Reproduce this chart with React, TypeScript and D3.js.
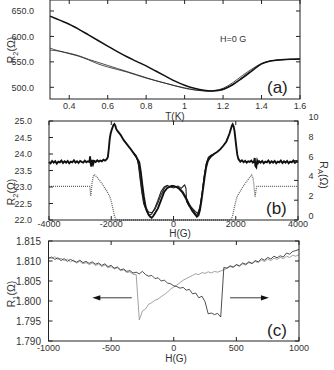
import React from "react";
import * as d3 from "d3";

const FONT = "'Liberation Sans', Arial, Helvetica, sans-serif";

// ---- panel (a): R2 vs T at H=0
const tempK = [0.3, 0.35, 0.4, 0.45, 0.5, 0.55, 0.6, 0.65, 0.7, 0.75, 0.8, 0.85, 0.9, 0.95, 1.0, 1.05, 1.1, 1.15, 1.2, 1.25, 1.3, 1.35, 1.4, 1.45, 1.5, 1.55, 1.6];
const r2Upper = [640, 632, 624, 614, 603, 592, 581, 570, 560, 551, 542, 532, 522, 512, 504, 498, 494, 493, 496, 505, 518, 532, 546, 552, 554, 555, 555.5];
const r2LowA = [577, 571, 567, 562, 555, 549, 543, 537, 531, 525, 519, 513, 508, 503, 499, 495, 493, 492.5, 495, 506, 520, 534, 546, 552, 554, 555, 555.5];
const r2LowB = [573, 571, 566, 561, 554, 546, 540, 535, 530, 524, 518, 513, 508, 503, 498, 495, 493, 493, 498, 509, 523, 536, 547, 552, 554, 555, 555.5];
const tTicks = [0.4, 0.6, 0.8, 1, 1.2, 1.4, 1.6];
const r2aTicks = [500, 550, 600, 650];

// ---- panel (b): R2 and RA vs H
const bMain: [number, number][] = [
  [-4000, 23.76], [-3950, 23.72], [-3900, 23.79], [-3850, 23.74], [-3800, 23.78], [-3750, 23.71], [-3700, 23.77], [-3650, 23.75],
  [-3600, 23.8], [-3550, 23.73], [-3500, 23.78], [-3450, 23.74], [-3400, 23.79], [-3350, 23.72], [-3300, 23.77], [-3250, 23.75],
  [-3200, 23.81], [-3150, 23.74], [-3100, 23.78], [-3050, 23.73], [-3000, 23.79], [-2950, 23.76], [-2900, 23.74], [-2850, 23.8],
  [-2800, 23.75], [-2750, 23.78], [-2700, 23.76], [-2680, 23.93], [-2660, 23.7], [-2640, 23.62], [-2610, 23.82], [-2580, 23.7],
  [-2550, 23.79], [-2500, 23.76], [-2450, 23.81], [-2400, 23.77], [-2350, 23.8], [-2300, 23.78], [-2250, 23.83], [-2200, 23.8],
  [-2150, 23.84], [-2110, 23.9], [-2080, 24.15], [-2050, 24.45], [-2020, 24.62], [-1990, 24.72], [-1960, 24.8], [-1930, 24.88],
  [-1900, 24.91], [-1870, 24.86], [-1840, 24.76], [-1800, 24.7], [-1700, 24.58], [-1600, 24.42], [-1500, 24.3], [-1400, 24.18],
  [-1300, 24.05], [-1200, 23.92], [-1100, 23.75], [-1050, 23.45], [-1000, 23.05], [-950, 22.7], [-900, 22.42], [-850, 22.26],
  [-800, 22.16], [-750, 22.1], [-700, 22.07], [-650, 22.12], [-600, 22.2], [-500, 22.35], [-400, 22.6], [-300, 22.85],
  [-200, 22.97], [-100, 23.02], [0, 23.03], [100, 23.0], [200, 22.93], [300, 22.82], [400, 22.65], [500, 22.45],
  [600, 22.28], [700, 22.16], [750, 22.1], [800, 22.14], [850, 22.3], [900, 22.6], [950, 22.95], [1000, 23.3],
  [1050, 23.6], [1100, 23.78], [1150, 23.86], [1200, 23.92], [1300, 24.0], [1400, 24.06], [1500, 24.14], [1600, 24.25],
  [1700, 24.38], [1800, 24.62], [1850, 24.78], [1880, 24.87], [1900, 24.9], [1930, 24.84], [1960, 24.7], [1990, 24.45],
  [2020, 24.2], [2050, 23.98], [2080, 23.86], [2120, 23.8], [2150, 23.77], [2200, 23.81], [2250, 23.75], [2300, 23.79],
  [2350, 23.74], [2400, 23.78], [2450, 23.76], [2500, 23.8], [2550, 23.74], [2590, 23.78], [2610, 23.88], [2630, 23.64],
  [2660, 23.6], [2690, 23.8], [2720, 23.73], [2750, 23.78], [2800, 23.74], [2850, 23.79], [2900, 23.72], [2950, 23.77],
  [3000, 23.75], [3050, 23.8], [3100, 23.73], [3150, 23.78], [3200, 23.74], [3250, 23.79], [3300, 23.72], [3350, 23.77],
  [3400, 23.75], [3450, 23.8], [3500, 23.73], [3550, 23.78], [3600, 23.74], [3650, 23.79], [3700, 23.72], [3750, 23.77],
  [3800, 23.75], [3850, 23.8], [3900, 23.73], [3950, 23.77], [4000, 23.75],
];
const bSweep2: [number, number][] = [
  [-1300, 24.05], [-1200, 23.9], [-1150, 23.8], [-1100, 23.55], [-1050, 23.15], [-1000, 22.8], [-950, 22.55], [-900, 22.38],
  [-800, 22.24], [-700, 22.22], [-600, 22.32], [-500, 22.52], [-400, 22.76], [-300, 22.95], [-250, 23.02], [-150, 22.98],
  [-50, 23.05], [50, 23.0], [150, 23.03], [250, 22.96], [320, 23.03], [360, 23.06], [400, 22.96], [420, 22.56],
  [500, 22.42], [600, 22.36], [700, 22.26], [780, 22.2], [850, 22.4], [920, 22.8], [980, 23.3], [1050, 23.7],
  [1120, 23.9], [1200, 23.96], [1300, 24.0],
];
const bSweep3: [number, number][] = [
  [-1300, 24.05], [-1200, 23.95], [-1130, 23.7], [-1080, 23.3], [-1020, 22.85], [-960, 22.5], [-880, 22.3], [-780, 22.15],
  [-700, 22.18], [-600, 22.36], [-500, 22.6], [-400, 22.86], [-300, 23.0], [-200, 23.05], [-100, 23.0], [0, 22.97],
  [100, 23.02], [200, 22.95], [300, 22.86], [400, 22.7], [500, 22.5], [600, 22.35], [700, 22.2], [760, 22.16],
  [850, 22.36], [930, 22.9], [1000, 23.4], [1060, 23.72], [1130, 23.9], [1300, 24.0],
];
const bRA: [number, number][] = [
  [-4000, 3.4], [-3000, 3.4], [-2690, 3.4], [-2672, 2.9], [-2662, 2.45], [-2650, 2.6], [-2620, 3.7], [-2580, 4.4],
  [-2545, 4.6], [-2450, 4.3], [-2350, 3.9], [-2250, 3.45], [-2150, 2.95], [-2050, 2.4], [-2000, 1.9], [-1950, 1.2],
  [-1900, 0.45], [-1860, 0.1], [-1820, 0], [1820, 0], [1860, 0.1], [1900, 0.45], [1950, 1.2], [2000, 1.9],
  [2050, 2.4], [2150, 2.95], [2250, 3.45], [2350, 3.9], [2450, 4.3], [2510, 4.55], [2560, 4.2], [2600, 3.0],
  [2620, 2.35], [2650, 3.0], [2680, 3.4], [3000, 3.4], [4000, 3.4],
];
const hbTicks = [-4000, -2000, 0, 2000, 4000];
const r2bTicks = [22, 22.5, 23, 23.5, 24, 24.5, 25];
const raTicks = [0, 2, 4, 6, 8, 10];

// ---- panel (c): R1 vs H, two sweep directions (H step 25 G from -1000)
const r1Up = [
  1.8106, 1.811, 1.8104, 1.8108, 1.8101, 1.8106, 1.8099, 1.8104, 1.81, 1.8097, 1.8102, 1.8096, 1.8099, 1.8094, 1.8098, 1.8092,
  1.8095, 1.8089, 1.8093, 1.8086, 1.8089, 1.8082, 1.8085, 1.8078, 1.808, 1.8074, 1.8076, 1.807, 1.8072, 1.8068, 1.8074, 1.8066,
  1.8062, 1.8064, 1.8056, 1.8058, 1.805, 1.8052, 1.8045, 1.8043, 1.8038, 1.8036, 1.8032, 1.8034, 1.8027, 1.8029, 1.8018, 1.802,
  1.8008, 1.8012, 1.7998, 1.7968, 1.797, 1.7966, 1.7969, 1.796, 1.8084, 1.8082, 1.8088, 1.8085, 1.8091, 1.8088, 1.8095, 1.8092,
  1.8098, 1.8094, 1.8101, 1.8098, 1.8106, 1.8102, 1.8109, 1.8105, 1.8112, 1.8108, 1.8113, 1.811, 1.812, 1.8117, 1.8124, 1.8126,
  1.8129,
];
const r1Down = [
  1.811, 1.8106, 1.8111, 1.8104, 1.8107, 1.8101, 1.8105, 1.8098, 1.8102, 1.8095, 1.8099, 1.8093, 1.8096, 1.8091, 1.8095, 1.8089,
  1.8092, 1.8086, 1.809, 1.8083, 1.8086, 1.808, 1.8083, 1.8076, 1.8078, 1.8071, 1.8073, 1.8067, 1.8066, 1.7953, 1.7975, 1.798,
  1.7992, 1.7996, 1.8002, 1.8005, 1.8011, 1.8016, 1.8022, 1.803, 1.8035, 1.804, 1.8046, 1.8052, 1.8056, 1.806, 1.8064, 1.8068,
  1.8066, 1.8071, 1.8069, 1.8073, 1.807, 1.8074, 1.8072, 1.8075, 1.8078, 1.8082, 1.8086, 1.8084, 1.809, 1.8087, 1.8093, 1.809,
  1.8096, 1.8093, 1.8099, 1.8096, 1.8102, 1.8099, 1.8105, 1.8101, 1.8107, 1.8104, 1.8109, 1.8106, 1.8112, 1.8109, 1.8114, 1.8112,
  1.8116,
];
const hcField = r1Up.map((_, i) => -1000 + 25 * i);
const hcTicks = [-1000, -500, 0, 500, 1000];
const r1Ticks = [1.79, 1.795, 1.8, 1.805, 1.81, 1.815];
// sweep arrows: [from H, to H, at R1]
const arrowLeft = [-335, -650, 1.8008];
const arrowRight = [450, 760, 1.8008];

type Lin = d3.ScaleLinear<number, number>;

function Frame(p: {
  x: Lin; y: Lin; xTicks: number[]; yTicks: number[];
  xFmt: (v: number) => string; yFmt: (v: number) => string;
  yLabelRight: number; xLabelBase: number; yFontSize?: number;
  y2?: Lin; y2Ticks?: number[]; y2LabelLeft?: number;
}) {
  const [x0, x1] = p.x.range();
  const [yb, yt] = p.y.range();
  const tl = 4;
  const rightY = p.y2 || p.y;
  const rightTicks = p.y2Ticks || p.yTicks;
  const yfs = p.yFontSize || 9;
  return (
    <g fontFamily={FONT} fontSize={9} fill="#333">
      <rect x={x0} y={yt} width={x1 - x0} height={yb - yt} fill="none" stroke="#222" strokeWidth={1} />
      <g stroke="#222" strokeWidth={1}>
        {p.xTicks.map((t) => (
          <g key={"x" + t}>
            <line x1={p.x(t)} x2={p.x(t)} y1={yb} y2={yb - tl} />
            <line x1={p.x(t)} x2={p.x(t)} y1={yt} y2={yt + tl} />
          </g>
        ))}
        {p.yTicks.map((t) => (
          <line key={"y" + t} x1={x0} x2={x0 + tl} y1={p.y(t)} y2={p.y(t)} />
        ))}
        {rightTicks.map((t) => (
          <line key={"r" + t} x1={x1} x2={x1 - tl} y1={rightY(t)} y2={rightY(t)} />
        ))}
      </g>
      {p.xTicks.map((t) => (
        <text key={"xl" + t} x={p.x(t)} y={p.xLabelBase} textAnchor="middle">{p.xFmt(t)}</text>
      ))}
      {p.yTicks.map((t) => (
        <text key={"yl" + t} x={p.yLabelRight} y={p.y(t) + yfs * 0.36} textAnchor="end" fontSize={yfs}>{p.yFmt(t)}</text>
      ))}
      {p.y2 && p.y2Ticks &&
        p.y2Ticks.map((t) => (
          <text key={"y2l" + t} x={p.y2LabelLeft} y={p.y2!(t) - 1} textAnchor="start">{String(t)}</text>
        ))}
    </g>
  );
}

function RotLabel({ x, y, sub, angle = -90 }: { x: number; y: number; sub: string; angle?: number }) {
  return (
    <text transform={`translate(${x},${y}) rotate(${angle})`} textAnchor="middle" fontFamily={FONT} fontSize={10.5} fill="#333">
      R<tspan fontSize={7.5} dy={2.5}>{sub}</tspan><tspan dy={-2.5}>(Ω)</tspan>
    </text>
  );
}

export default function App() {
  // (a)
  const aX = d3.scaleLinear().domain([0.3, 1.6]).range([50, 300]);
  const aY = d3.scaleLinear().domain([477, 671.6]).range([99, 0]);
  const aLine = d3
    .line<number>()
    .x((_, i) => aX(tempK[i]))
    .y((d) => aY(d))
    .curve(d3.curveCatmullRom);

  // (b)
  const bX = d3.scaleLinear().domain([-4000, 4000]).range([49, 298]);
  const bY = d3.scaleLinear().domain([22, 25]).range([220, 121]);
  const bY2 = d3.scaleLinear().domain([0, 10]).range([220, 121]);
  const bLine = d3.line<[number, number]>().x((d) => bX(d[0])).y((d) => bY(d[1]));
  const raLine = d3.line<[number, number]>().x((d) => bX(d[0])).y((d) => bY2(d[1]));

  // (c)
  const cX = d3.scaleLinear().domain([-1000, 1000]).range([48.5, 299]);
  const cY = d3.scaleLinear().domain([1.79, 1.815]).range([341, 241]);
  const cLine = d3
    .line<number>()
    .x((_, i) => cX(hcField[i]))
    .y((d) => cY(d));

  const arrow = (a: number[], key: string) => {
    const xs = cX(a[0]);
    const xe = cX(a[1]);
    const yy = cY(a[2]);
    const dir = Math.sign(xe - xs);
    return (
      <g key={key}>
        <line x1={xs} x2={xe - dir * 6} y1={yy} y2={yy} stroke="#222" strokeWidth={0.9} />
        <path d={`M${xe},${yy} L${xe - dir * 8},${yy - 2.6} L${xe - dir * 8},${yy + 2.6} Z`} fill="#111" />
      </g>
    );
  };

  return (
    <svg width={334} height={370} style={{ position: "absolute", left: 0, top: 0, background: "#fff" }}>
      {/* (a) */}
      <path d={aLine(r2LowA) || ""} fill="none" stroke="#222" strokeWidth={0.8} />
      <path d={aLine(r2LowB) || ""} fill="none" stroke="#222" strokeWidth={0.8} />
      <path d={aLine(r2Upper) || ""} fill="none" stroke="#111" strokeWidth={1.5} />
      <Frame
        x={aX} y={aY} xTicks={tTicks} yTicks={r2aTicks}
        xFmt={(v) => String(v)} yFmt={(v) => v.toFixed(1)}
        yLabelRight={34} xLabelBase={108.5}
      />
      <text x={175} y={119.5} textAnchor="middle" fontFamily={FONT} fontSize={10} fill="#333">T(K)</text>
      <text x={220} y={42} fontFamily={FONT} fontSize={9} fill="#333">H=0 G</text>
      <text x={267} y={93} fontFamily={FONT} fontSize={17} fill="#222">(a)</text>
      <RotLabel x={15} y={50} sub="2" />

      {/* (b) */}
      <path d={raLine(bRA) || ""} fill="none" stroke="#666" strokeWidth={1.3} strokeDasharray="1 1" />
      <path d={bLine(bSweep2) || ""} fill="none" stroke="#222" strokeWidth={1.1} />
      <path d={bLine(bSweep3) || ""} fill="none" stroke="#222" strokeWidth={1.1} />
      <path d={bLine(bMain) || ""} fill="none" stroke="#111" strokeWidth={1.9} />
      <Frame
        x={bX} y={bY} xTicks={hbTicks} yTicks={r2bTicks}
        xFmt={(v) => String(v)} yFmt={(v) => v.toFixed(1)}
        yLabelRight={32} xLabelBase={226.5}
        y2={bY2} y2Ticks={raTicks} y2LabelLeft={308.5}
      />
      <text x={180} y={236.5} textAnchor="middle" fontFamily={FONT} fontSize={10} fill="#333">H(G)</text>
      <text x={266} y={214} fontFamily={FONT} fontSize={17} fill="#222">(b)</text>
      <RotLabel x={15} y={192} sub="2" />
      <RotLabel x={320} y={175} sub="A" angle={90} />

      {/* (c) */}
      <path d={cLine(r1Down) || ""} fill="none" stroke="#8a8a8a" strokeWidth={0.8} />
      <path d={cLine(r1Up) || ""} fill="none" stroke="#222" strokeWidth={0.8} />
      {arrow(arrowLeft, "al")}
      {arrow(arrowRight, "ar")}
      <Frame
        x={cX} y={cY} xTicks={hcTicks} yTicks={r1Ticks}
        xFmt={(v) => String(v)} yFmt={(v) => v.toFixed(3)}
        yLabelRight={41} xLabelBase={350.5} yFontSize={10}
      />
      <text x={176} y={362} textAnchor="middle" fontFamily={FONT} fontSize={10} fill="#333">H(G)</text>
      <text x={267} y={336} fontFamily={FONT} fontSize={17} fill="#222">(c)</text>
      <RotLabel x={15} y={294} sub="1" />
    </svg>
  );
}
